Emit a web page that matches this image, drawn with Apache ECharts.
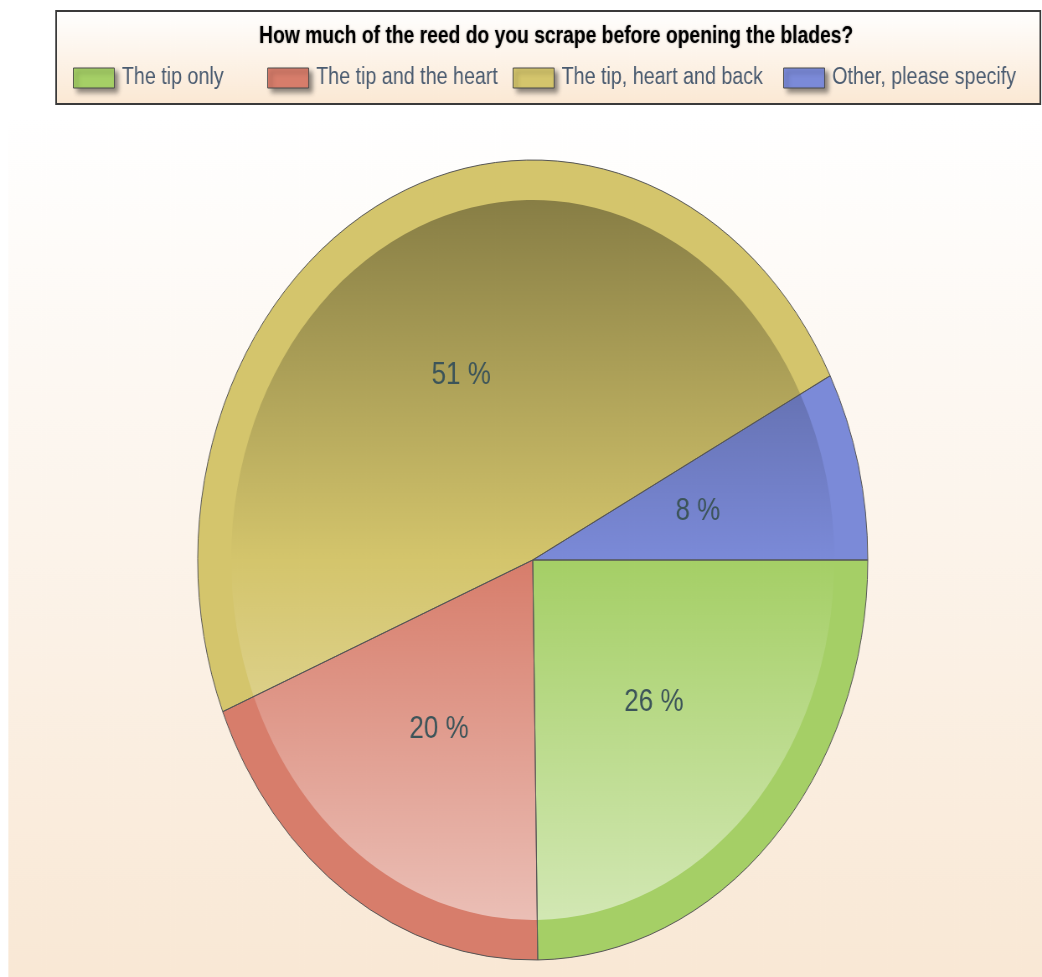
<!DOCTYPE html>
<html><head><meta charset="utf-8">
<script src="https://cdn.jsdelivr.net/npm/echarts@6/dist/echarts.min.js"></script>
<style>
html,body{margin:0;padding:0;background:#fff;overflow:hidden;width:1042px;height:977px}
#c{width:1244px;height:977px;transform:scaleX(0.83762);transform-origin:0 0}
</style>
</head><body><div id="c"></div>
<script>
// ---- data ----
const titleText = 'How much of the reed do you scrape before opening the blades?';
const categories = ['The tip only', 'The tip and the heart', 'The tip, heart and back', 'Other, please specify'];
const values = [26, 20, 51, 8];

// ---- styles / layout (unscaled page coordinates; the whole chart is squeezed horizontally) ----
const colors = ['#a5cf66', '#d77d6b', '#d4c56c', '#7b8ad8'];
const legendLeft = [87, 319, 612, 935];
const CENTER = [636, 560];
const R = 400;
const INNER = 360;
const FONT = "'Liberation Sans', Arial, sans-serif";

function hex2rgb(h) { h = h.replace('#', ''); return [0, 2, 4].map(i => parseInt(h.substr(i, 2), 16)); }
function rgb(a) { return 'rgb(' + a.map(v => Math.max(0, Math.min(255, Math.round(v)))).join(',') + ')'; }
function shade(h, f) { return rgb(hex2rgb(h).map(v => v * f)); }
function tint(h, t) { return rgb(hex2rgb(h).map(v => v + (255 - v) * t)); }
function innerGrad(base) {
  return new echarts.graphic.LinearGradient(0, CENTER[1] - R, 0, CENTER[1] + R, [
    { offset: 0, color: shade(base, 0.6) },
    { offset: 0.5, color: base },
    { offset: 1, color: tint(base, 0.56) }
  ], true);
}

const common = {
  type: 'pie', center: CENTER, startAngle: 0, clockwise: true, silent: true,
  avoidLabelOverlap: false, labelLine: { show: false }
};

const chart = echarts.init(document.getElementById('c'), null, { renderer: 'canvas' });
chart.setOption({
  animation: false,
  backgroundColor: '#ffffff',
  color: colors,
  graphic: [
    { type: 'rect', z: -10, silent: true, shape: { x: 10, y: 118, width: 1240, height: 859 },
      style: { fill: new echarts.graphic.LinearGradient(0, 0, 0, 1, [
        { offset: 0, color: '#ffffff' }, { offset: 1, color: '#f9e8d5' }]) } },
    { type: 'rect', z: -5, silent: true, shape: { x: 67, y: 11, width: 1175, height: 93 },
      style: { fill: new echarts.graphic.LinearGradient(0, 0, 0, 1, [
        { offset: 0, color: '#ffffff' }, { offset: 1, color: '#fbe8d3' }]), stroke: '#3a3a3a', lineWidth: 2 } }
  ],
  title: {
    text: titleText, left: 664, top: 25, padding: 0, textAlign: 'center',
    textStyle: { fontFamily: FONT, fontSize: 23, fontWeight: 'bold', color: '#000000',
      textShadowColor: 'rgba(0,0,0,0.4)', textShadowBlur: 2 }
  },
  legend: categories.map((c, i) => ({
    data: [c], left: legendLeft[i], top: 66, padding: 0,
    itemWidth: 49, itemHeight: 20, icon: 'rect', selectedMode: false,
    itemStyle: { borderColor: '#4a4a4a', borderWidth: 1, shadowBlur: 5, shadowOffsetX: 4, shadowOffsetY: 4, shadowColor: 'rgba(0,0,0,0.45)' },
    textStyle: { fontFamily: FONT, fontSize: 23.5, color: '#4a5b70', padding: [0, 0, 0, 4] }
  })),
  series: [
    Object.assign({}, common, {
      name: 'ring', z: 1, radius: [0, R], label: { show: false },
      data: categories.map((c, i) => ({ name: c, value: values[i], itemStyle: { color: colors[i] } }))
    }),
    Object.assign({}, common, {
      name: 'inner', z: 2, radius: [0, INNER], label: { show: false },
      data: categories.map((c, i) => ({ name: c, value: values[i], itemStyle: { color: innerGrad(colors[i]) } }))
    }),
    Object.assign({}, common, {
      name: 'labels', z: 3, radius: [0, R],
      itemStyle: { color: 'rgba(0,0,0,0)', borderColor: '#555555', borderWidth: 1 },
      label: { show: true, position: 'inside', formatter: '{c} %', fontFamily: FONT, fontSize: 31, color: '#3c5459' },
      data: categories.map((c, i) => ({ name: c, value: values[i] }))
    })
  ]
});
</script></body></html>
